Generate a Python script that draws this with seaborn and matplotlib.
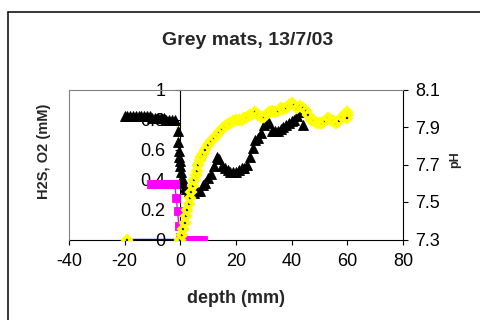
import matplotlib
matplotlib.use("Agg")
import matplotlib.pyplot as plt
from matplotlib.lines import Line2D
import seaborn as sns

title = "Grey mats, 13/7/03"
x_label = "depth (mm)"
y_label_left = "H2S, O2 (mM)"
y_label_right = "pH"

x_ticks = [-40, -20, 0, 20, 40, 60, 80]
left_ticks = [0, 0.2, 0.4, 0.6, 0.8, 1]
left_tick_labels = ["0", "0.2", "0.4", "0.6", "0.8", "1"]
right_ticks = [7.3, 7.5, 7.7, 7.9, 8.1]
right_tick_labels = ["7.3", "7.5", "7.7", "7.9", "8.1"]

# pH (black triangles, right axis)
ph_depth = [-20, -19, -18, -17, -16, -15, -14, -13, -12, -11, -10, -9, -8, -7, -6,
            -5, -4, -3, -2,
            -1.0, -0.8, -0.6, -0.4, -0.2, 0, 0.3, 0.6, 1, 1.5, 2,
            3, 4, 5, 6, 7, 8, 9, 10, 11, 12, 13, 14, 15, 16, 17, 18, 19, 20,
            21, 22, 23, 24, 25, 26, 27, 28, 29, 30, 31, 32, 33, 34, 35, 36, 37,
            38, 39, 40, 41, 42, 43, 44]
ph_value = [7.96, 7.96, 7.96, 7.96, 7.96, 7.96, 7.96, 7.96, 7.96, 7.96, 7.95, 7.95,
            7.95, 7.95, 7.95, 7.94, 7.94, 7.94, 7.94,
            7.88, 7.82, 7.77, 7.74, 7.72, 7.69, 7.66, 7.63, 7.60, 7.58, 7.57,
            7.56, 7.55, 7.55, 7.56, 7.56, 7.59, 7.60, 7.63, 7.65, 7.69, 7.74,
            7.73, 7.69, 7.68, 7.67, 7.66, 7.66, 7.66, 7.67, 7.68, 7.68, 7.70,
            7.74, 7.79, 7.83, 7.84, 7.87, 7.91, 7.94, 7.92, 7.88, 7.88, 7.88,
            7.89, 7.90, 7.91, 7.92, 7.93, 7.94, 7.96, 7.98, 7.91]

# O2 (yellow / navy diamonds, left axis)
o2_depth = [-19, 0, 0.5, 1, 1.5, 2, 2.5, 3, 3.5, 4, 4.5, 5, 5.5, 6, 6.5, 7, 7.5, 8,
            9, 10, 11, 12, 13, 14, 15, 16, 17, 18, 19, 20, 21, 22, 23, 24, 25,
            26, 27, 28, 29, 30, 31, 32, 33, 34, 35, 36, 37, 38, 39, 40, 41, 42,
            43, 44, 45, 46, 47, 48, 49, 50, 51, 52, 53, 54, 55, 56, 57, 58, 59,
            60, 60, 60]
o2_value = [0, 0, 0.03, 0.07, 0.11, 0.16, 0.20, 0.24, 0.28, 0.32, 0.36, 0.40, 0.43,
            0.46, 0.50, 0.53, 0.55, 0.57,
            0.60, 0.63, 0.66, 0.68, 0.70, 0.72, 0.74, 0.76, 0.77, 0.78, 0.79,
            0.80, 0.80, 0.80, 0.81, 0.82, 0.83, 0.84, 0.85, 0.83, 0.82, 0.82,
            0.84, 0.85, 0.86, 0.85, 0.86, 0.88, 0.87, 0.88, 0.90, 0.91, 0.90,
            0.88, 0.89, 0.88, 0.86, 0.83, 0.80, 0.79, 0.78, 0.78, 0.78, 0.79,
            0.81, 0.80, 0.79, 0.78, 0.79, 0.82, 0.84, 0.85, 0.83, 0.81]

# H2S (magenta squares, left axis)
h2s_depth = [-10.5, -10, -9.5, -9, -8.5, -8, -7.5, -7, -6.5, -6, -5.5, -5, -4.5, -4,
             -3.5, -3, -2.5, -2, -1.5, -1.0, -0.5, 0,
             0.5, 1, 1.5, 2, 2.5, 3, 3.5, 4, 4.5, 5, 5.5, 6, 6.5, 7, 7.5, 8]
h2s_value = [0.37, 0.37, 0.37, 0.37, 0.37, 0.37, 0.37, 0.37, 0.37, 0.37, 0.37, 0.37,
             0.37, 0.37, 0.37, 0.37, 0.37, 0.37, 0.28, 0.19, 0.09, 0.02,
             0, 0, 0, 0, 0, 0, 0, 0, 0, 0, 0, 0, 0, 0, 0, 0]

sns.set_style("ticks")
plt.rcParams["font.family"] = ["Liberation Sans", "DejaVu Sans"]

W, H = 480, 320
fig = plt.figure(figsize=(4.8, 3.2), dpi=100)
ax1 = fig.add_axes([69 / W, 1 - 239.5 / H, 334 / W, 150 / H])
ax2 = ax1.twinx()

sns.lineplot(x=ph_depth, y=ph_value, ax=ax2, sort=False, estimator=None,
             color="#FFFF00", lw=0.8, marker="^", markersize=7,
             markerfacecolor="black", markeredgecolor="black",
             markeredgewidth=0.6, zorder=2)
sns.lineplot(x=h2s_depth, y=h2s_value, ax=ax2, sort=False, estimator=None,
             color="#FF00FF", lw=1, marker="s", markersize=5.5,
             markerfacecolor="#FF00FF", markeredgecolor="#FF00FF",
             markeredgewidth=0.6, transform=ax1.transData, zorder=3)
sns.lineplot(x=o2_depth, y=o2_value, ax=ax2, sort=False, estimator=None,
             color="#000080", lw=1, marker="D", markersize=4.5,
             markerfacecolor="#000080", markeredgecolor="#FFFF00",
             markeredgewidth=2.6, transform=ax1.transData, zorder=4)

ax1.set_xlim(-40, 80)
ax1.set_ylim(0, 1)
ax2.set_ylim(7.3, 8.1)
ax1.set_xticks(x_ticks)
ax1.set_xticklabels([str(t) for t in x_ticks])
ax1.set_yticks(left_ticks)
ax1.set_yticklabels(left_tick_labels)
ax2.set_yticks(right_ticks)
ax2.set_yticklabels(right_tick_labels)
ax1.set_xlabel("")
ax1.set_ylabel("")
ax2.set_xlabel("")
ax2.set_ylabel("")

ax1.spines["left"].set_position(("data", 0))
for s in ["left", "bottom"]:
    ax1.spines[s].set_color("black")
    ax1.spines[s].set_linewidth(0.8)
ax1.spines["top"].set_visible(False)
ax1.spines["right"].set_visible(False)
ax2.spines["bottom"].set_visible(False)
for s in ["left", "top"]:
    ax2.spines[s].set_visible(True)
    ax2.spines[s].set_color("#808080")
    ax2.spines[s].set_linewidth(0.8)
ax2.spines["right"].set_visible(True)
ax2.spines["right"].set_color("black")
ax2.spines["right"].set_linewidth(0.8)

ax1.tick_params(axis="x", direction="out", length=3.5, width=0.8, pad=6.5,
                labelsize=13, color="black", labelcolor="black")
ax1.tick_params(axis="y", direction="out", length=3.5, width=0.8, pad=7,
                labelsize=13, color="black", labelcolor="black")
ax2.tick_params(axis="y", direction="out", length=3.5, width=0.8, pad=5.5,
                labelsize=13, color="black", labelcolor="black", left=False)
ax1.grid(False)
ax2.grid(False)

fig.text(247.5 / W, 1 - 45 / H, title, ha="center", va="baseline",
         fontsize=14, fontweight="bold")
fig.text(236 / W, 1 - 303 / H, x_label, ha="center", va="baseline",
         fontsize=13, fontweight="bold")
fig.text(44 / W, 1 - 151 / H, y_label_left, rotation=90, ha="center",
         va="center", fontsize=10.5, fontweight="bold")
fig.text(455 / W, 1 - 160 / H, y_label_right, rotation=90, ha="center",
         va="center", fontsize=9, fontweight="bold")

# chart outer border
xb, yb = 8 / W, 1 - 12 / H
fig.add_artist(Line2D([xb, xb], [0, yb], color="black", lw=1.1))
fig.add_artist(Line2D([xb, 1.0], [yb, yb], color="black", lw=1.1))

fig.savefig("out.png", dpi=100)
